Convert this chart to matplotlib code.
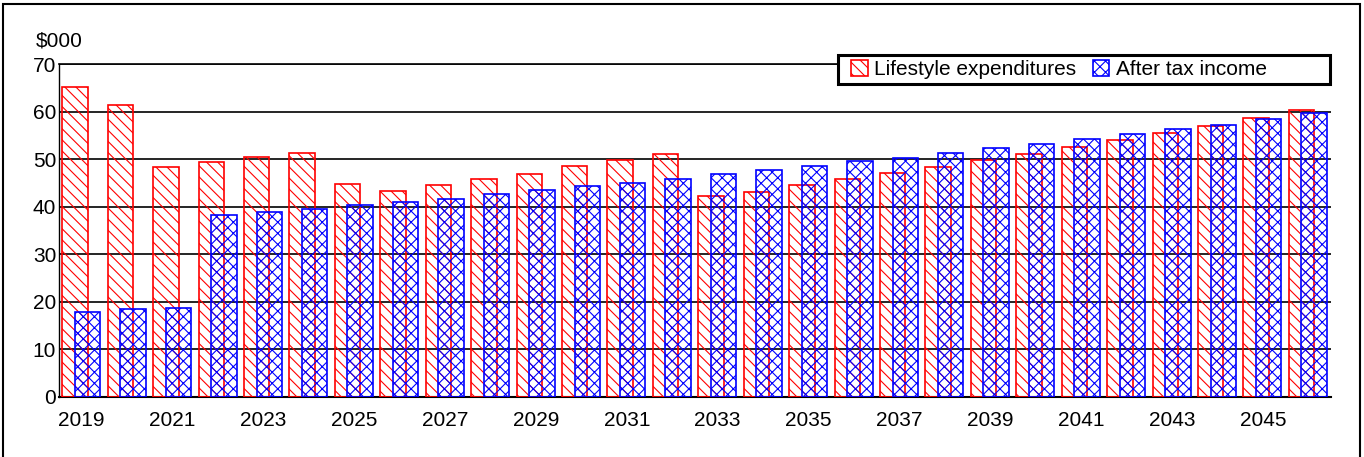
import numpy as np
import matplotlib
matplotlib.use("Agg")
from matplotlib import pyplot as plt
from matplotlib.patches import Rectangle

plt.rcParams['font.family'] = ['Liberation Sans', 'DejaVu Sans']
plt.rcParams['hatch.linewidth'] = 0.8

# years and the two series ($000)
years = list(range(2019, 2047))
lifestyle = [65.3, 61.5, 48.4, 49.4, 50.4, 51.4, 44.8, 43.4, 44.6, 45.8,
             47.0, 48.5, 49.8, 51.2, 42.2, 43.2, 44.6, 45.8, 47.1, 48.4,
             49.8, 51.1, 52.6, 54.1, 55.6, 57.1, 58.7, 60.4]
after_tax = [17.9, 18.4, 18.6, 38.2, 38.8, 39.5, 40.4, 41.0, 41.7, 42.7,
             43.5, 44.4, 45.1, 45.8, 46.8, 47.7, 48.6, 49.6, 50.3, 51.3,
             52.4, 53.3, 54.3, 55.3, 56.4, 57.3, 58.4, 59.7]
yticks = [0, 10, 20, 30, 40, 50, 60, 70]

W, H = 1364, 457
fs = 15
fig = plt.figure(figsize=(W / 100, H / 100), dpi=100)
ax = fig.add_axes([59 / W, 1 - 396.7 / H, (1331 - 59) / W, (396.7 - 64.3) / H])

x = np.arange(len(years))
w = 0.56
ax.bar(x - 0.148, lifestyle, w, facecolor='none', edgecolor='red',
       hatch='\\\\\\', lw=1.2, label='Lifestyle expenditures', zorder=3)
ax.bar(x + 0.128, after_tax, w, facecolor='none', edgecolor='blue',
       hatch='xxx', lw=1.2, label='After tax income', zorder=3)

ax.set_xlim(-0.5, len(years) - 0.5)
ax.set_ylim(0, 70)
ax.set_yticks(yticks)
ax.set_xticks(x[::2])
ax.set_xticklabels([str(y) for y in years[::2]])
ax.tick_params(axis='x', length=0, pad=10, labelsize=fs)
ax.tick_params(axis='y', length=0, pad=2, labelsize=fs)
ax.yaxis.grid(True, color='black', lw=1.2, zorder=1)
ax.set_axisbelow(True)
ax.spines['right'].set_visible(False)
ax.spines['left'].set_linewidth(1.0)
ax.spines['top'].set_linewidth(1.2)
ax.spines['bottom'].set_linewidth(1.5)

fig.text(36 / W, 1 - 46 / H, '$000', fontsize=fs, va='baseline', ha='left')

# legend box with its own frame
ax.add_patch(Rectangle((838 / W, 1 - 84 / H), (1330 - 838) / W, (84 - 55) / H,
                       transform=fig.transFigure, facecolor='white',
                       edgecolor='black', lw=2.2, clip_on=False, zorder=5))
leg = ax.legend(loc='center left', bbox_to_anchor=(851 / W, 1 - 69.5 / H),
                bbox_transform=fig.transFigure, ncol=2, frameon=False,
                fontsize=fs, borderpad=0, borderaxespad=0,
                handlelength=0.8, handleheight=0.8,
                handletextpad=0.3, columnspacing=0.8)
leg.set_zorder(6)

# outer frame
fig.patches.append(Rectangle((3 / W, -0.1), (1360 - 3) / W, 1.1 - 4 / H,
                             transform=fig.transFigure, facecolor='none',
                             edgecolor='black', lw=1.5))

fig.savefig('out.png', dpi=100)
